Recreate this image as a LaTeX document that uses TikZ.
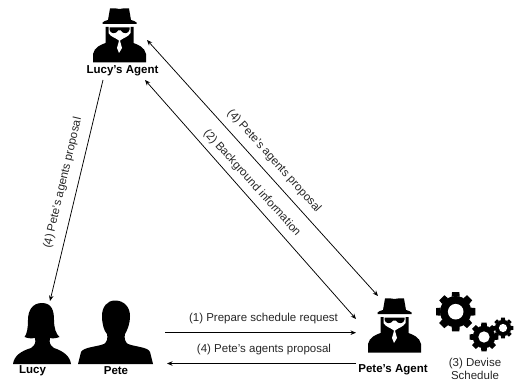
\documentclass[tikz,border=0pt]{standalone}
\usepackage{fontspec}
\setmainfont{Liberation Sans}
\usetikzlibrary{arrows.meta}
\newcommand\mycog[3]{%
  \begin{scope}[shift={(#1,#2)}]
    \pgfmathsetmacro{\rin}{#3*0.78}
    \pgfmathsetmacro{\rho}{#3*0.39}
    \fill[black] (0,0) circle (\rin pt);
    \foreach \a in {0,45,...,315}{
      \fill[black] (\a-15:\rin pt) -- (\a-10.5:#3 pt) -- (\a+10.5:#3 pt) -- (\a+15:\rin pt) -- cycle;
    }
    \fill[white] (0,0) circle (\rho pt);
  \end{scope}}
\tikzset{
  lbl/.style={font=\fontsize{11.5}{13}\selectfont,text=black!85,inner sep=0pt},
  bname/.style={font=\fontsize{11.5}{13}\selectfont\bfseries,inner sep=0pt},
  link/.style={draw=black,line width=0.75pt,-{Stealth[length=5.5pt,width=4.5pt]}},
  linkboth/.style={draw=black,line width=0.75pt,{Stealth[length=5.5pt,width=4.5pt]}-{Stealth[length=5.5pt,width=4.5pt]}},
  spy/.pic={
    \fill[black] (-9.5,0.5) .. controls (-6,-0.5) and (-3,0.8) .. (0,1) .. controls (3,0.8) and (6,-0.5) .. (9.5,0.5)
      -- (11.5,12) .. controls (14,12.5) and (15.5,13.2) .. (17,14.5) -- (17,16) -- (-17,16) -- (-17,14.5)
      .. controls (-15.5,13.2) and (-14,12.5) .. (-11.5,12) -- cycle;
    \fill[black] (-14,19) -- (14,19) -- (14,30) -- (14,35)
      .. controls (19,37) and (25,39) .. (26.5,46) -- (26.5,54.5) -- (-26.5,54.5) -- (-26.5,46)
      .. controls (-25,39) and (-19,37) .. (-14,35) -- (-14,30) -- cycle;
    \fill[white] (-11,18) -- (11,18) -- (11,25) .. controls (9,29) and (3,30) .. (0,33)
      .. controls (-3,30) and (-9,29) .. (-11,25) -- cycle;
    \fill[white] (0,31) -- (2.5,40) -- (-0.5,45) -- (-2.5,40) -- cycle;
    \fill[black] (-10,19.5) -- (10,19.5) -- (10,21.5) .. controls (9.5,26) and (3.5,26.5) .. (1.5,22.5) -- (-1.5,22.5)
      .. controls (-3.5,26.5) and (-9.5,26) .. (-10,21.5) -- cycle;
  }
}
\begin{document}
\begin{tikzpicture}[x=1pt,y=-1pt]
\useasboundingbox (0,0) rectangle (517,385);
\pic at (119.5,8) {spy};
\pic at (394.5,298) {spy};
% Lucy
\fill[black] (42,303) .. controls (52,303) and (54,311) .. (54,320)
  .. controls (54,328) and (56,334) .. (59.5,337)
  .. controls (56,338.5) and (52,338.5) .. (50,338)
  .. controls (49,343) and (50,345) .. (54,348)
  .. controls (63,351) and (70,356) .. (71,364)
  -- (13,364) .. controls (14,356) and (21,351) .. (31,348)
  .. controls (35,345) and (36,343) .. (35,338)
  .. controls (32,338.5) and (28,338.5) .. (24.5,337)
  .. controls (27,334) and (28,328) .. (28,320)
  .. controls (28,311) and (32,303) .. (42,303) -- cycle;
% Pete
\fill[black] (115,300.5) .. controls (124,300.5) and (130,307) .. (130,316)
  .. controls (130,324) and (127,331) .. (125,334)
  .. controls (124,338) and (125,342) .. (128,344)
  .. controls (136,347) and (148,347) .. (150,352) -- (153,364) -- (78,364) -- (81,352)
  .. controls (84,347) and (96,347) .. (104,344)
  .. controls (107,342) and (108,338) .. (107,334)
  .. controls (104,331) and (102,324) .. (102,316)
  .. controls (102,307) and (107,300.5) .. (115,300.5) -- cycle;
% gears
\mycog{455.7}{311.7}{20}
\mycog{484}{337}{14.5}
\mycog{503}{328}{10.5}
% text
\node[bname] (lucyagent) at (122.5,71) {Lucy's Agent};
\node[bname] (peteagent) at (393,370) {Pete's Agent};
\node[bname] (lucy) at (32.5,371) {Lucy};
\node[bname] (pete) at (116,371) {Pete};
\node[lbl,align=center] (devise) at (475,368.5) {(3) Devise\\Schedule};
% anchors
\coordinate (aTop) at (147,40);
\coordinate (bTop) at (378,296);
\coordinate (aMid) at (145,80);
\coordinate (bMid) at (356,319);
\coordinate (aLeft) at (103,80);
\coordinate (lucyTop) at (50,301);
\coordinate (peteR1) at (165,332.7);
\coordinate (agentL1) at (356,332.7);
\coordinate (agentL2) at (356,363.5);
\coordinate (peteR2) at (167,363.5);
\draw[linkboth] (aTop) -- (bTop);
\draw[linkboth] (aMid) -- (bMid);
\draw[link] (aLeft) -- (lucyTop);
\draw[link] (peteR1) -- (agentL1);
\draw[link] (agentL2) -- (peteR2);
% labels
\node[lbl,rotate=-48] (l1) at (274,161) {(4) Pete's agents proposal};
\node[lbl,rotate=-48] (l2) at (252,183) {(2) Background information};
\node[lbl,rotate=76.7] (l3) at (63,183) {(4) Pete's agents proposal};
\node[lbl] (l4) at (263.5,319) {(1) Prepare schedule request};
\node[lbl] (l5) at (264,350) {(4) Pete's agents proposal};
\end{tikzpicture}
\end{document}
